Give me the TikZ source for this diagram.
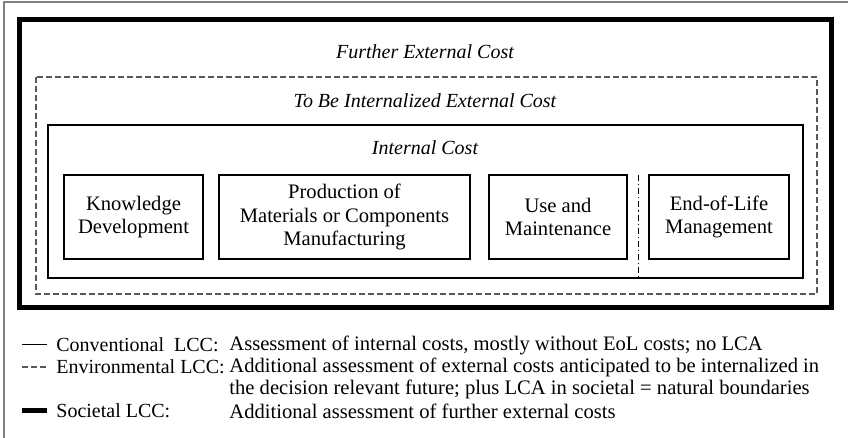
\documentclass[tikz,border=0pt]{standalone}
\usepackage{fontspec}
\setmainfont{Liberation Serif}
\usetikzlibrary{positioning}

\begin{document}
\begin{tikzpicture}[x=0.5pt, y=-0.5pt,
	phase box/.style={draw, line width=0.6pt, inner sep=0pt, align=center, minimum height=42pt, font=\fontsize{10.3}{11.8}\selectfont},
	cost title/.style={inner sep=0pt, font=\fontsize{10}{12}\selectfont\itshape},
	legend text/.style={anchor=west, inner sep=0pt, font=\fontsize{10}{11}\selectfont},
	legend desc/.style={legend text, font=\fontsize{10.3}{11}\selectfont},
	env line/.style={line width=0.6pt, black!65, dash pattern=on 3pt off 1.5pt}]

			\useasboundingbox (0,0) rectangle (848,438);

			% page frame
			\draw[gray, line width=0.8pt] (4,438) -- (4,2) -- (848,2);

			% boundaries
			\draw[line width=2.5pt] (19,20) rectangle (831,308);
			\draw[env line] (36,77) rectangle (817,294);
			\draw[line width=0.6pt] (48,125) rectangle (803,278);
			\draw[line width=0.5pt, dash pattern=on 3pt off 1.5pt on 0.6pt off 1.5pt] (638,175) -- (638,278);

			\node[cost title] (further) at (425,52) {Further External Cost};
			\node[cost title] (tobe) at (425,101) {To Be Internalized External Cost};
			\node[cost title] (internal) at (425,148) {Internal Cost};

			% life cycle phases
			\node[phase box, minimum width=69.5pt] (know) at (133.5,217) {Knowledge\\Development};
			\node[phase box, minimum width=125.5pt] (prod) at (344.5,217) {Production of\\Materials or Components\\Manufacturing};
			\node[phase box, minimum width=69pt] (use) at (558,217) {Use and\\Maintenance};
			\node[phase box, minimum width=70pt] (eol) at (719,217) {End-of-Life\\Management};

			% legend
			\coordinate (c1) at (22,345);
			\coordinate (c2) at (22,367);
			\coordinate (c3) at (22,411);
			\draw[line width=0.5pt] (c1) -- ++(25,0);
			\draw[env line] (c2) -- ++(25,0);
			\draw[line width=2.5pt] (c3) -- ++(25,0);

			\node[legend text] (conv) at (56,345) {Conventional~ LCC:};
			\node[legend text] (env) at (56,367) {Environmental LCC:};
			\node[legend text] (soc) at (56,411) {Societal LCC:};
			\node[legend desc] (convd) at (229,345) {Assessment of internal costs, mostly without EoL costs; no LCA};
			\node[legend desc] (envd) at (229,367) {Additional assessment of external costs anticipated to be internalized in};
			\node[legend desc] (envd2) at (229,389) {the decision relevant future; plus LCA in societal = natural boundaries};
			\node[legend desc] (socd) at (229,411) {Additional assessment of further external costs};

		\end{tikzpicture}
\end{document}
